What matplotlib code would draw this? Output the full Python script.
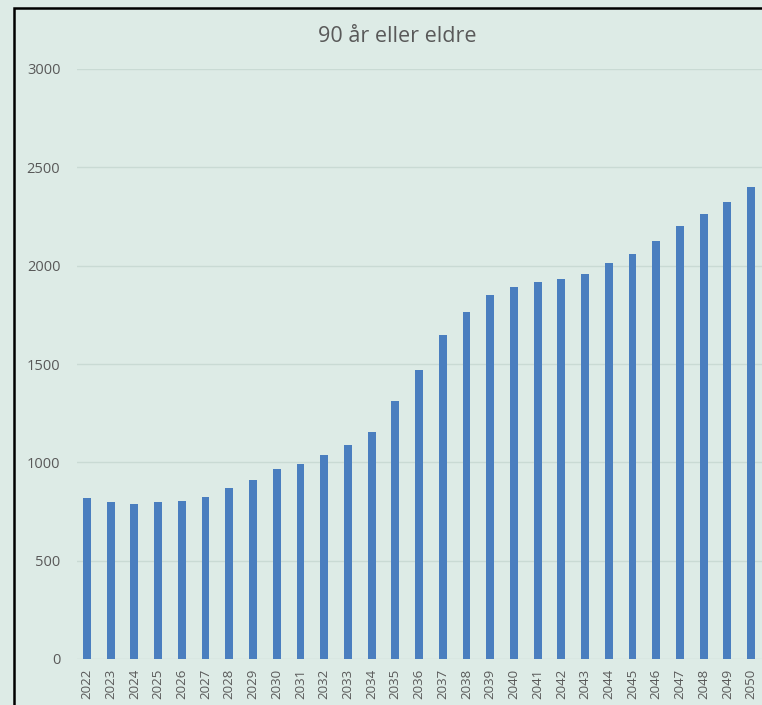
import numpy as np
import matplotlib
matplotlib.use("Agg")
import matplotlib.pyplot as plt
from matplotlib.patches import Rectangle

# årstall og antall personer 90 år eller eldre
years = [str(y) for y in range(2022, 2051)]
values = [820, 798, 788, 797, 802, 823, 868, 910, 965, 990,
          1035, 1088, 1155, 1310, 1468, 1645, 1763, 1850, 1890, 1917,
          1930, 1957, 2012, 2060, 2124, 2200, 2265, 2326, 2398]
yticks = [0, 500, 1000, 1500, 2000, 2500, 3000]

bg = "#ddebe6"
bar_col = "#4a7ebf"
txt_col = "#595959"

plt.rcParams["font.family"] = ["Open Sans", "DejaVu Sans"]

W, H = 762, 705
fig = plt.figure(figsize=(W / 100, H / 100), dpi=100, facecolor=bg)
ax = fig.add_axes([77 / W, 1 - 659 / H, 1 - 77 / W, (659 - 69) / H])
ax.set_facecolor(bg)

x = np.arange(len(years))
ax.bar(x, values, width=0.33, color=bar_col, zorder=3)

ax.set_xlim(-0.42, len(years) - 1 + 0.46)
ax.set_ylim(0, 3000)
ax.set_yticks(yticks)
ax.set_yticklabels([str(t) for t in yticks])
ax.set_xticks(x)
ax.set_xticklabels(years, rotation=90)
ax.tick_params(axis="y", length=0, pad=12, labelsize=10.5, labelcolor=txt_col)
ax.tick_params(axis="x", length=0, pad=7, labelsize=9.5, labelcolor=txt_col)
ax.grid(axis="y", color="#c9dad4", linewidth=1, zorder=0)
for s in ax.spines.values():
    s.set_visible(False)

fig.text(397 / W, 1 - 37 / H, "90 år eller eldre", ha="center", va="center",
         fontsize=15.5, color=txt_col)

# svart ramme oppe og til venstre
fig.patches.append(Rectangle((14 / W, -0.1), 1.2, 1 - 8 / H + 0.1,
                             transform=fig.transFigure, fill=False,
                             edgecolor="black", linewidth=1.8, zorder=10))

fig.savefig("out.png", dpi=100, facecolor=bg)
